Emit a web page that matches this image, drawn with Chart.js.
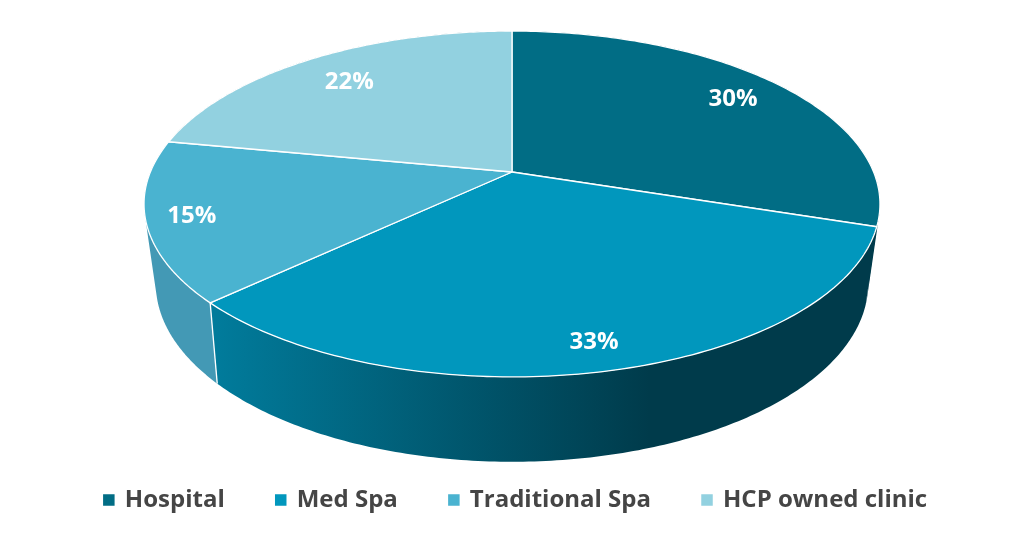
<!DOCTYPE html>
<html>
<head>
<meta charset="utf-8">
<title>Pie</title>
<script src="https://cdn.jsdelivr.net/npm/chart.js@4/dist/chart.umd.min.js"></script>
<style>
html, body { margin: 0; padding: 0; background: #ffffff; }
canvas { display: block; }
</style>
</head>
<body>
<canvas id="grafico" width="1024" height="557"></canvas>
<script>
const categorias = ["Hospital", "Med Spa", "Traditional Spa", "HCP owned clinic"];
const valores = [30, 33, 15, 22];
const cores = ["#016d85", "#0197bd", "#4ab3d0", "#92d1e0"];

// how far out along each slice the percent text sits
const labelRaio = [0.823, 0.875, 0.88, 0.785];

// perspective of the top and bottom disc
const topo = { cx: 512, y0: 172, a: 361.6, b: 167, p: -0.185 };
const base = { cx: 512, y0: 248, a: 349, b: 171, p: -0.2 };

function projeta(d, ang, r) {
    const u = Math.cos(ang) * r;
    const v = Math.sin(ang) * r;
    const w = 1 + d.p * v;
    return { x: d.cx + d.a * u / w, y: d.y0 + d.b * v / w };
}

function arcoPath(ctx, d, ini, fim, novo) {
    const passos = 120;
    for (let i = 0; i <= passos; i++) {
        const pt = projeta(d, ini + (fim - ini) * i / passos, 1);
        if (i === 0 && novo) ctx.moveTo(pt.x, pt.y);
        else ctx.lineTo(pt.x, pt.y);
    }
}

// wall as many thin quads in one path, so the outline follows the tangent edge
function paredePath(ctx, ini, fim) {
    const passos = 160;
    for (let i = 0; i < passos; i++) {
        const a1 = ini + (fim - ini) * i / passos;
        const a2 = ini + (fim - ini) * (i + 1) / passos;
        const q = [projeta(topo, a1, 1), projeta(topo, a2, 1), projeta(base, a2, 1), projeta(base, a1, 1)];
        let area = 0;
        q.forEach((p, k) => {
            const n = q[(k + 1) % 4];
            area += p.x * n.y - n.x * p.y;
        });
        if (area < 0) q.reverse();
        ctx.moveTo(q[0].x, q[0].y);
        ctx.lineTo(q[1].x, q[1].y);
        ctx.lineTo(q[2].x, q[2].y);
        ctx.lineTo(q[3].x, q[3].y);
        ctx.closePath();
    }
}

function corParede(ctx, i) {
    if (i === 1) {
        const g = ctx.createLinearGradient(217, 0, 650, 0);
        g.addColorStop(0, "#017b9b");
        g.addColorStop(1, "#003b4b");
        return g;
    }
    if (i === 2) return "#4399b5";
    return "#003b4b";
}

const pizza3d = {
    id: "pizza3d",

    beforeDatasetDraw(chart, args) {
        const ctx = chart.ctx;
        const arcos = args.meta.data;

        // side walls first, the top faces go over them
        arcos.forEach((el, i) => {
            ctx.beginPath();
            paredePath(ctx, el.startAngle, el.endAngle);
            ctx.fillStyle = corParede(ctx, i);
            ctx.fill();
        });

        // seam on the wall between Med Spa and Traditional Spa
        const a = projeta(topo, arcos[1].endAngle, 1);
        const b = projeta(base, arcos[1].endAngle, 1);
        ctx.beginPath();
        ctx.moveTo(a.x, a.y);
        ctx.lineTo(b.x, b.y);
        ctx.strokeStyle = "#ffffff";
        ctx.lineWidth = 1.3;
        ctx.stroke();

        arcos.forEach((el, i) => {
            const c = projeta(topo, 0, 0);
            ctx.beginPath();
            ctx.moveTo(c.x, c.y);
            arcoPath(ctx, topo, el.startAngle, el.endAngle, false);
            ctx.closePath();
            ctx.fillStyle = cores[i];
            ctx.fill();
            ctx.strokeStyle = "#ffffff";
            ctx.lineWidth = 1.3;
            ctx.lineJoin = "round";
            ctx.stroke();
        });

        return false;
    },

    afterDatasetsDraw(chart) {
        const ctx = chart.ctx;
        ctx.save();
        ctx.font = "700 24px 'Open Sans'";
        ctx.fillStyle = "#ffffff";
        ctx.textAlign = "center";
        ctx.textBaseline = "middle";
        chart.getDatasetMeta(0).data.forEach((el, i) => {
            const meio = (el.startAngle + el.endAngle) / 2;
            const pt = projeta(topo, meio, labelRaio[i]);
            ctx.fillText(valores[i] + "%", pt.x, pt.y + 1);
        });
        ctx.restore();
    }
};

new Chart(
    document.getElementById("grafico"),
    {
        type: "pie",
        data: {
            labels: categorias,
            datasets: [{
                data: valores,
                backgroundColor: cores,
                borderWidth: 0
            }]
        },
        options: {
            responsive: false,
            animation: false,
            devicePixelRatio: 1,
            layout: { padding: { left: 8, bottom: 35 } },
            plugins: {
                tooltip: { enabled: false },
                legend: {
                    position: "bottom",
                    labels: {
                        // small box with a thick edge, so the text sits nearer the marker
                        boxWidth: 8,
                        boxHeight: 8,
                        padding: 52,
                        color: "#454545",
                        font: { family: "'Open Sans'", size: 24, weight: "700" },
                        generateLabels(chart) {
                            return Chart.overrides.pie.plugins.legend.labels.generateLabels(chart).map((item, i) => {
                                item.strokeStyle = cores[i];
                                item.lineWidth = 3.5;
                                return item;
                            });
                        }
                    }
                }
            }
        },
        plugins: [pizza3d]
    }
);
</script>
</body>
</html>
